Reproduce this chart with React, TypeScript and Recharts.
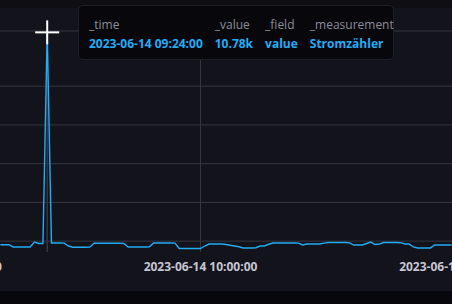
import { CartesianGrid, Line, LineChart, ReferenceDot, ReferenceLine, XAxis, YAxis } from "recharts";

// power readings, one per minute, starting 2023-06-14 09:13
const startMinute = 13;
const watts = [
  -183, -183, -185, -300, -302, -305, -300, -302, -45, -120, -121, 10780, -95,
  -95, -92, -100, -250, -317, -317, -315, -318, -310, -111, -111, -108, -111,
  -112, -110, -111, -115, -302, -302, -300, -305, -302, -295, -95, -95, -93,
  -95, -97, -100, -379, -379, -380, -378, -379, -380, -250, -147, -147, -145,
  -147, -173, -210, -250, -290, -353, -353, -350, -340, -250, -250, -160, -95,
  -95, -93, -95, -97, -95, -100, -199, -147, -147, -145, -147, -100, -70, -70,
  -68, -70, -72, -90, -199, -199, -195, -120, -50, -173, -150, -70, -70, -68,
  -72, -80, -147, -150, -300, -353, -353, -355, -350, -199, -199, -195, -199,
  -199,
];

const xTicks = [0, 60, 120];
const xTickLabels = ["2023-06-14 09:00:00", "2023-06-14 10:00:00", "2023-06-14 11:00:00"];
const yGrid = [-560, 0, 2000, 4000, 6000, 8000, 10000, 10850];
const yDomain = [-560, 10850];

const hoverMinute = 24;
const hoverValue = 10780;
const tooltipHeaders = ["_time", "_value", "_field", "_measurement"];
const tooltipValues = ["2023-06-14 09:24:00", "10.78k", "value", "Stromzähler"];

const data = watts.map((w, i) => ({ t: startMinute + i, w }));

const GRID = "#363640";
const FONT = "'Open Sans', sans-serif";

function Cross({ cx, cy }: { cx?: number; cy?: number }) {
  if (cx == null || cy == null) return null;
  return (
    <g>
      <line x1={cx - 12} x2={cx + 12} y1={cy} y2={cy} stroke="#fff" strokeWidth={2} />
      <line x1={cx} x2={cx} y1={cy - 12} y2={cy + 12} stroke="#fff" strokeWidth={2} />
    </g>
  );
}

export default function App() {
  return (
    <div
      style={{
        position: "absolute",
        left: 0,
        top: 0,
        width: 452,
        height: 304,
        overflow: "hidden",
        background: "#08080c",
      }}
    >
      <div style={{ position: "absolute", left: 0, top: 0, width: 452, height: 8, background: "#0e0e13" }} />
      <div style={{ position: "absolute", left: 0, top: 8, width: 452, height: 283, background: "#13131b" }} />
      <div style={{ position: "absolute", left: -200, top: 0 }}>
        <LineChart
          width={852}
          height={304}
          data={data}
          margin={{ top: 31, right: 196, bottom: 32, left: 145 }}
        >
          <CartesianGrid
            stroke={GRID}
            horizontalValues={yGrid}
            verticalValues={xTicks}
          />
          <XAxis
            type="number"
            dataKey="t"
            domain={[0, 120]}
            ticks={xTicks}
            interval={0}
            height={20}
            axisLine={false}
            tickLine={false}
            tickSize={0}
            tickMargin={10}
            allowDataOverflow
            tickFormatter={(v: number) => xTickLabels[xTicks.indexOf(v)] ?? ""}
            tick={{ fill: "#c6c6d2", fontSize: 12, fontWeight: 700, fontFamily: FONT }}
          />
          <YAxis hide type="number" domain={yDomain} allowDataOverflow />
          <ReferenceLine x={hoverMinute} stroke={GRID} strokeWidth={1.5} />
          <Line
            type="linear"
            dataKey="w"
            stroke="#22adf6"
            strokeWidth={1.4}
            dot={false}
            isAnimationActive={false}
          />
          <ReferenceDot x={hoverMinute} y={hoverValue} shape={<Cross />} />
        </LineChart>
      </div>
      <div
        style={{
          position: "absolute",
          left: 78,
          top: 5,
          width: 316,
          height: 55,
          boxSizing: "border-box",
          border: "1px solid #1f1f28",
          borderRadius: 5,
          background: "#07070c",
          padding: "9px 10px 0 10px",
          display: "flex",
          gap: 12,
          fontFamily: FONT,
          fontSize: 12,
          lineHeight: "19px",
          whiteSpace: "nowrap",
        }}
      >
        {tooltipHeaders.map((h, i) => (
          <div key={h}>
            <div style={{ color: "#8d8d9b" }}>{h}</div>
            <div style={{ color: "#22adf6", fontWeight: 700 }}>{tooltipValues[i]}</div>
          </div>
        ))}
      </div>
    </div>
  );
}
